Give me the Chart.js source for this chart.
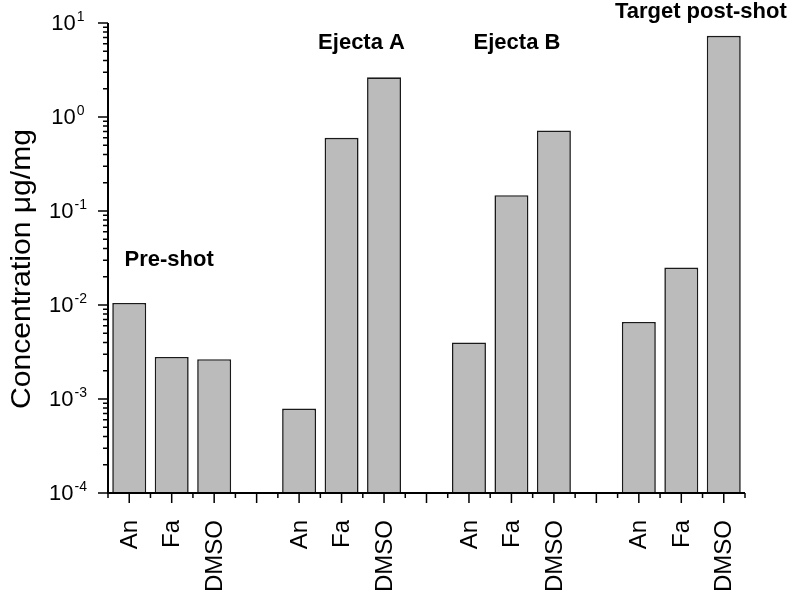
<!DOCTYPE html>
<html>
<head>
<meta charset="utf-8">
<script src="https://cdn.jsdelivr.net/npm/chart.js@4.4.1/dist/chart.umd.min.js"></script>
<style>
    html, body { margin: 0; padding: 0; background: #fff; }
    #wrap { width: 792px; height: 597px; }
</style>
</head>
<body>
<div id="wrap"><canvas id="chart" width="792" height="597"></canvas></div>
<script>
/* Concentration per sample group, log axis */

const categories = ['An', 'Fa', 'DMSO', '', 'An', 'Fa', 'DMSO', '', 'An', 'Fa', 'DMSO', '', 'An', 'Fa', 'DMSO'];
const concentration = [0.0105, 0.0028, 0.00265, null, 0.00079, 0.60, 2.64, null, 0.0040, 0.147, 0.72, null, 0.0066, 0.025, 7.3];
const yTickExponents = [-4, -3, -2, -1, 0, 1];
const groupLabels = ['Pre-shot', 'Ejecta A', 'Ejecta B', 'Target post-shot'];
const yTitle = 'Concentration \u03bcg/mg';

// where each group label sits: [category index, concentration]
const groupAnchors = [[0.94, 0.026], [5.47, 5.3], [9.13, 5.3], [13.46, 11.3]];

const FONT = 'Arial, "Liberation Sans", sans-serif';

const axesPlugin = {
    id: 'originAxes',
    afterDraw(chart) {
        const ctx = chart.ctx;
        const xs = chart.scales.x;
        const ys = chart.scales.y;
        const area = chart.chartArea;
        ctx.save();
        ctx.strokeStyle = '#000';
        ctx.fillStyle = '#000';

        // axis lines
        ctx.lineWidth = 2;
        ctx.beginPath();
        ctx.moveTo(area.left, area.top);
        ctx.lineTo(area.left, area.bottom);
        ctx.lineTo(area.right, area.bottom);
        ctx.stroke();

        // y ticks: majors at decades, minors 2..9
        ctx.lineWidth = 1.5;
        ctx.beginPath();
        yTickExponents.forEach(e => {
            const y = ys.getPixelForValue(Math.pow(10, e));
            ctx.moveTo(area.left - 10, y);
            ctx.lineTo(area.left, y);
            if (e < yTickExponents[yTickExponents.length - 1]) {
                for (let m = 2; m <= 9; m++) {
                    const ym = ys.getPixelForValue(m * Math.pow(10, e));
                    ctx.moveTo(area.left - 5, ym);
                    ctx.lineTo(area.left, ym);
                }
            }
        });
        ctx.stroke();

        // y tick labels 10^n
        yTickExponents.forEach(e => {
            const y = ys.getPixelForValue(Math.pow(10, e));
            ctx.font = '22px ' + FONT;
            const w1 = ctx.measureText('10').width;
            ctx.font = '14px ' + FONT;
            const w2 = ctx.measureText(String(e)).width;
            const x0 = 68 - (w1 + w2 + 1) / 2;
            ctx.font = '22px ' + FONT;
            ctx.textAlign = 'left';
            ctx.textBaseline = 'middle';
            ctx.fillText('10', x0, y + 1);
            ctx.font = '14px ' + FONT;
            ctx.textBaseline = 'alphabetic';
            ctx.fillText(String(e), x0 + w1 + 1, y - 2);
        });

        // x ticks: majors at centres, minors at slot edges
        ctx.beginPath();
        const half = (xs.getPixelForValue(1) - xs.getPixelForValue(0)) / 2;
        categories.forEach((c, i) => {
            const x = xs.getPixelForValue(i);
            ctx.moveTo(x, area.bottom);
            ctx.lineTo(x, area.bottom + 10);
            ctx.moveTo(x + half, area.bottom);
            ctx.lineTo(x + half, area.bottom + 5);
            if (i === 0) {
                ctx.moveTo(x - half, area.bottom);
                ctx.lineTo(x - half, area.bottom + 5);
            }
        });
        ctx.stroke();

        // x category labels, rotated
        ctx.font = '24px ' + FONT;
        ctx.textAlign = 'right';
        ctx.textBaseline = 'middle';
        categories.forEach((c, i) => {
            if (!c) return;
            const x = xs.getPixelForValue(i);
            ctx.save();
            ctx.translate(x + 1, area.bottom + 27);
            ctx.rotate(-Math.PI / 2);
            ctx.fillText(c, 0, 0);
            ctx.restore();
        });

        // group labels
        ctx.font = 'bold 22px ' + FONT;
        ctx.textAlign = 'center';
        ctx.textBaseline = 'alphabetic';
        groupLabels.forEach((t, i) => {
            const a = groupAnchors[i];
            ctx.fillText(t, xs.getPixelForValue(a[0]), ys.getPixelForValue(a[1]));
        });

        // y axis title
        ctx.save();
        ctx.font = '28px ' + FONT;
        ctx.translate(22, 269);
        ctx.rotate(-Math.PI / 2);
        ctx.textAlign = 'center';
        ctx.textBaseline = 'middle';
        const tw = ctx.measureText(yTitle).width;
        ctx.scale(280 / tw, 1);
        ctx.fillText(yTitle, 0, 0);
        ctx.restore();

        ctx.restore();
    }
};

window.onload = () => {
    const ctx = document.getElementById('chart').getContext('2d');
    new Chart(ctx, {
        type: 'bar',
        data: {
            labels: categories,
            datasets: [{
                label: 'Concentration',
                data: concentration,
                backgroundColor: '#bbbbbb',
                borderColor: '#1a1a1a',
                borderWidth: 1.6,
                barPercentage: 0.8,
                categoryPercentage: 1.0
            }]
        },
        options: {
            responsive: false,
            animation: false,
            devicePixelRatio: 1,
            layout: { padding: { top: 23, right: 47, left: 0, bottom: 0 } },
            plugins: { legend: { display: false }, tooltip: { enabled: false } },
            scales: {
                x: {
                    offset: true,
                    grid: { display: false },
                    border: { display: false },
                    ticks: { display: false },
                    afterFit: s => { s.height = 104; }
                },
                y: {
                    type: 'logarithmic',
                    min: 1e-4,
                    max: 10,
                    grid: { display: false },
                    border: { display: false },
                    ticks: { display: false },
                    afterFit: s => { s.width = 108; }
                }
            }
        },
        plugins: [axesPlugin]
    });
};
</script>
</body>
</html>
